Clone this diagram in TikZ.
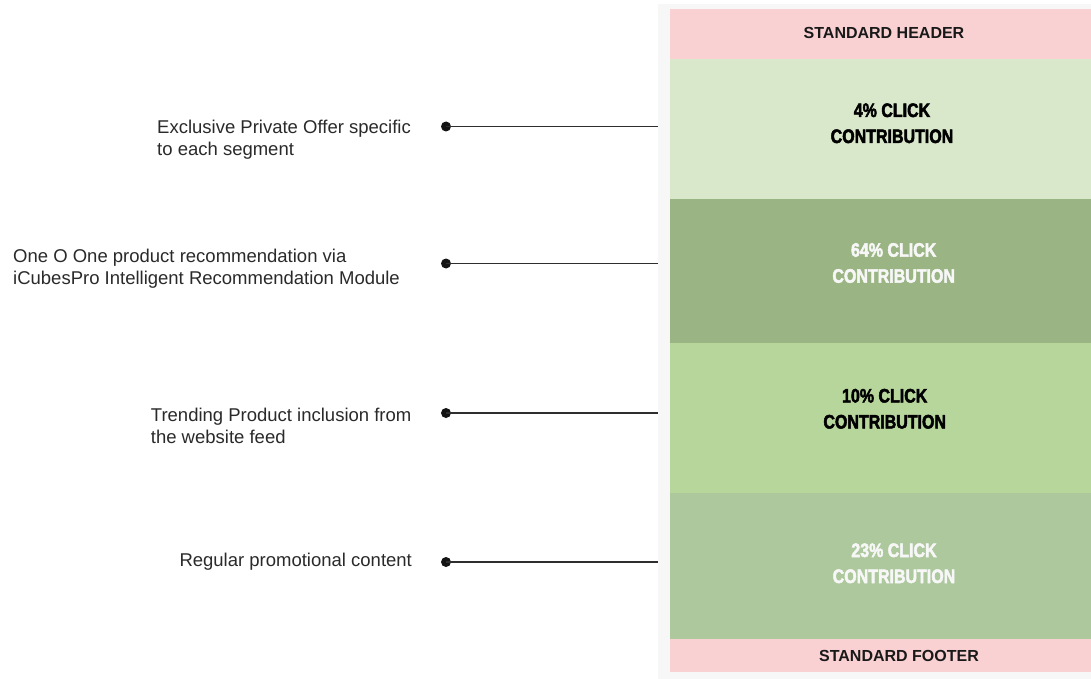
\documentclass[tikz,border=0pt]{standalone}
\usepackage{fontspec}
\setmainfont{Liberation Sans}
\newfontfamily\condfont[FakeStretch=0.82,FakeBold=2.5]{Liberation Sans Bold}
\definecolor{panelgrey}{HTML}{F7F7F7}
\definecolor{pinkband}{HTML}{F9D1D2}
\definecolor{greenA}{HTML}{D9E8CB}
\definecolor{greenB}{HTML}{9AB583}
\definecolor{greenC}{HTML}{B7D69C}
\definecolor{greenD}{HTML}{ACC89C}
\definecolor{labeltext}{HTML}{2A2A2A}
\definecolor{linegrey}{HTML}{2E2E2E}
\begin{document}
\begin{tikzpicture}[x=1pt,y=-1pt,
  band/.style={anchor=north west,inner sep=0pt,outer sep=0pt,minimum width=421pt},
  bandtitle/.style={anchor=base,inner sep=0pt,font=\bfseries\fontsize{16}{19}\selectfont,text=black!90},
  clicktext/.style={anchor=base,inner sep=0pt,align=center,font=\condfont\fontsize{19.5}{26}\selectfont},
  label/.style={anchor=base west,inner sep=0pt,align=left,text=labeltext,font=\fontsize{18.5}{22}\selectfont},
  dotmark/.style={circle,fill=black!92,inner sep=0pt,minimum size=10pt},
  connector/.style={draw=linegrey,line width=1.5pt}]
\useasboundingbox (0,0) rectangle (1091,679);
\fill[white] (0,0) rectangle (1091,679);
% panel
\node[anchor=north west,inner sep=0pt,fill=panelgrey,minimum width=433pt,minimum height=675pt] (panel) at (658,4) {};
\node[band,fill=pinkband,minimum height=50pt] (header) at (670,9) {};
\node[band,fill=greenA,minimum height=140pt] (b1) at (670,59) {};
\node[band,fill=greenB,minimum height=143.5pt] (b2) at (670,199) {};
\node[band,fill=greenC,minimum height=150.5pt] (b3) at (670,342.5) {};
\node[band,fill=greenD,minimum height=146pt] (b4) at (670,493) {};
\node[band,fill=pinkband,minimum height=33pt] (footer) at (670,639) {};
% band texts (base anchor = last line baseline)
\node[bandtitle] (headertext) at (884,39) {STANDARD HEADER};
\node[bandtitle] (footertext) at (899,661.7) {STANDARD FOOTER};
\node[clicktext,text=black] (t1) at (892,143) {4\% CLICK\\CONTRIBUTION};
\node[clicktext,text=white!97!black] (t2) at (893.7,282.7) {64\% CLICK\\CONTRIBUTION};
\node[clicktext,text=black] (t3) at (884.7,428.5) {10\% CLICK\\CONTRIBUTION};
\node[clicktext,text=white!97!black] (t4) at (894,583) {23\% CLICK\\CONTRIBUTION};
% labels
\node[label] (l1) at (157,155.3) {Exclusive Private Offer specific\\to each segment};
\node[label] (l2) at (13,284) {One O One product recommendation via\\iCubesPro Intelligent Recommendation Module};
\node[label] (l3) at (150.7,443) {Trending Product inclusion from\\the website feed};
\node[label] (l4) at (179.3,566.7) {Regular promotional content};
% dots and connectors
\node[dotmark] (d1) at (446,126.5) {};
\node[dotmark] (d2) at (446,263.5) {};
\node[dotmark] (d3) at (446,413) {};
\node[dotmark] (d4) at (446,562) {};
\draw[connector] (d1.center) -- (d1.center -| panel.west);
\draw[connector] (d2.center) -- (d2.center -| panel.west);
\draw[connector] (d3.center) -- (d3.center -| panel.west);
\draw[connector] (d4.center) -- (d4.center -| panel.west);
\end{tikzpicture}
\end{document}
